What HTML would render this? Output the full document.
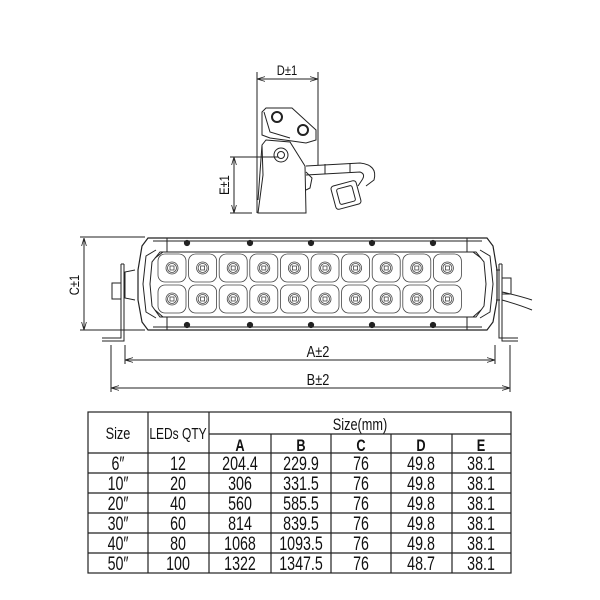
<!DOCTYPE html>
<html><head><style>
body{margin:0;background:#fff;}
svg{display:block;}
text{font-family:"Liberation Sans",sans-serif;fill:#111;}
.t{font-family:"Liberation Sans","Noto Sans CJK SC",sans-serif;text-anchor:middle;}
</style></head><body>
<svg width="600" height="600" viewBox="0 0 600 600" xmlns="http://www.w3.org/2000/svg">
<defs>
<marker id="ar" viewBox="0 0 10 10" refX="10" refY="5" markerWidth="8" markerHeight="8" orient="auto-start-reverse"><path d="M0,2 L10,5 L0,8" fill="none" stroke="#222" stroke-width="1"/></marker>
</defs>
<g fill="none" stroke="#222" stroke-width="1">
<line x1="257" y1="79" x2="318" y2="79" marker-start="url(#ar)" marker-end="url(#ar)"/>
<line x1="257" y1="72" x2="257" y2="213"/>
<line x1="318" y1="72" x2="318" y2="165"/>
<line x1="234" y1="157" x2="234" y2="213" marker-start="url(#ar)" marker-end="url(#ar)"/>
<line x1="230" y1="157" x2="278" y2="157"/>
<line x1="230" y1="213" x2="252" y2="213"/>
<path d="M262,112 L266,108 L292,108 L316,130 L316,140 L306,143 L292,141 L270,138 L262,135 Z"/>
<path d="M264,112 L270,132 L290,138"/>
<circle cx="277" cy="117" r="5" stroke-width="2"/>
<circle cx="303" cy="130" r="5" stroke-width="2"/>
<path d="M266,140 L290,142 L305,166 L306,213 L258,213 L263,175 L262,145 Z"/>
<path d="M262,145 L258,200"/>
<circle cx="281" cy="155" r="7"/><circle cx="281" cy="155" r="3.5"/>
<path d="M306,166 L360,163 Q378,165 374,180 L366,186"/>
<path d="M306,175 L360,172 Q366,174 362,180 L358,186"/>
<line x1="325" y1="164" x2="325" y2="174"/><line x1="350" y1="163" x2="350" y2="172"/>
<path d="M306,172 L312,178 L310,188 L306,190"/>
<rect x="333" y="183" width="26" height="24" rx="3" transform="rotate(-15 346 195)"/>
<rect x="338" y="187" width="16" height="16" rx="2" transform="rotate(-15 346 195)"/>
<line x1="84" y1="238" x2="84" y2="330" marker-start="url(#ar)" marker-end="url(#ar)"/>
<line x1="80" y1="237" x2="145" y2="237"/>
<line x1="80" y1="330" x2="145" y2="330"/>
<line x1="125" y1="360" x2="495" y2="360" marker-start="url(#ar)" marker-end="url(#ar)"/>
<line x1="111" y1="388" x2="510" y2="388" marker-start="url(#ar)" marker-end="url(#ar)"/>
<line x1="125" y1="345" x2="125" y2="364"/>
<line x1="495" y1="345" x2="495" y2="364"/>
<line x1="111" y1="345" x2="111" y2="392"/>
<line x1="510" y1="345" x2="510" y2="392"/>
<path d="M121,264 L121,338 L102,338 M124,264 L124,341 L102,341 M121,264 L124,264"/>
<rect x="112" y="283" width="9" height="16"/>
<path d="M499,264 L499,338 L518,338 M502,264 L502,341 L518,341 M499,264 L502,264"/>
<rect x="502" y="278" width="9" height="16"/>
<path d="M502,292 Q520,296 532,300 M502,300 Q520,305 532,310"/>
<path d="M148,238 L487,238 L493,246 L497,270 L497,300 L493,322 L487,330 L148,330 L142,322 L138,300 L138,270 L142,246 Z" stroke-width="1.2"/>
<path d="M135,270 L125,272 L125,298 L135,300"/>
<path d="M500,270 L496,270 M496,300 L500,300"/>
<path d="M153,241 L482,241 M153,327 L482,327"/>
<line x1="167" y1="238" x2="167" y2="252"/><line x1="467" y1="238" x2="467" y2="252"/>
<line x1="167" y1="317" x2="167" y2="330"/><line x1="467" y1="317" x2="467" y2="330"/>
<path d="M160,252 L476,252 L484,262 L486,284 L484,306 L476,317 L160,317 L152,306 L150,284 L152,262 Z"/>
<path d="M156,250 L146,256 L143,284 L146,312 L156,318"/>
<path d="M480,250 L490,256 L493,284 L490,312 L480,318"/>
<path d="M155,258 L163,252 M155,310 L163,317 M481,258 L473,252 M481,310 L473,317"/>
</g>
<g fill="#222" stroke="#222">
<circle cx="187" cy="243" r="2.6"/><circle cx="250" cy="243" r="2.6"/><circle cx="311" cy="243" r="2.6"/><circle cx="372" cy="243" r="2.6"/><circle cx="433" cy="243" r="2.6"/>
<circle cx="187" cy="325" r="2.6"/><circle cx="250" cy="325" r="2.6"/><circle cx="311" cy="325" r="2.6"/><circle cx="372" cy="325" r="2.6"/><circle cx="433" cy="325" r="2.6"/>
</g>
<g fill="none" stroke="#444" stroke-width="0.8" id="leds"></g>
<text transform="translate(287,75) scale(0.8,1)" class="t" style="font-size:14px">D±1</text>
<text transform="translate(229,185) rotate(-90) scale(0.8,1)" class="t" style="font-size:14px">E±1</text>
<text transform="translate(79,285) rotate(-90) scale(0.8,1)" class="t" style="font-size:14px">C±1</text>
<text transform="translate(318,357) scale(0.8,1)" class="t" style="font-size:16px">A±2</text>
<text transform="translate(318,385) scale(0.8,1)" class="t" style="font-size:16px">B±2</text>
<g stroke="#222" stroke-width="1.2" fill="none">
<rect x="88" y="412" width="423" height="161"/>
<line x1="148" y1="412" x2="148" y2="573"/>
<line x1="209" y1="412" x2="209" y2="573"/>
<line x1="271" y1="434" x2="271" y2="573"/>
<line x1="331" y1="434" x2="331" y2="573"/>
<line x1="391" y1="434" x2="391" y2="573"/>
<line x1="452" y1="434" x2="452" y2="573"/>
<line x1="209" y1="434" x2="511" y2="434"/>
<line x1="88" y1="453" x2="511" y2="453"/>
<line x1="88" y1="473" x2="511" y2="473"/>
<line x1="88" y1="493" x2="511" y2="493"/>
<line x1="88" y1="513" x2="511" y2="513"/>
<line x1="88" y1="533" x2="511" y2="533"/>
<line x1="88" y1="553" x2="511" y2="553"/>
</g>
<g id="rows"></g>
<script>
var ns="http://www.w3.org/2000/svg";
var g=document.getElementById('leds');
for(var i=0;i<10;i++){for(var r=0;r<2;r++){
var cx=172+i*30.6, cy=r?299:268;
var rc=document.createElementNS(ns,'rect');
rc.setAttribute('x',cx-14);rc.setAttribute('y',cy-14);rc.setAttribute('width',28);rc.setAttribute('height',28);rc.setAttribute('rx',7);g.appendChild(rc);
[6,4.5].forEach(function(rr){var c=document.createElementNS(ns,'circle');c.setAttribute('cx',cx);c.setAttribute('cy',cy);c.setAttribute('r',rr);g.appendChild(c);});
var s=document.createElementNS(ns,'rect');s.setAttribute('x',cx-2);s.setAttribute('y',cy-2);s.setAttribute('width',4);s.setAttribute('height',4);g.appendChild(s);
}}
var rg=document.getElementById('rows');
function T(x,y,v,fs,w){var t=document.createElementNS(ns,'text');t.setAttribute('transform','translate('+x+','+y+') scale(0.75,1)');t.setAttribute('class','t');t.setAttribute('style','font-size:'+fs+'px'+(w?';font-weight:bold':''));t.textContent=v;rg.appendChild(t);}
T(118,439,"Size",17);T(178,439,"LEDs QTY",16);T(360,430,"Size(mm)",17);
["A","B","C","D","E"].forEach(function(v,k){T([240,301,361,421,481][k],451,v,17,true);});
var data=[["6″","12","204.4","229.9","76","49.8","38.1"],["10″","20","306","331.5","76","49.8","38.1"],["20″","40","560","585.5","76","49.8","38.1"],["30″","60","814","839.5","76","49.8","38.1"],["40″","80","1068","1093.5","76","49.8","38.1"],["50″","100","1322","1347.5","76","48.7","38.1"]];
var xs=[118,178,240,301,361,421,481];
data.forEach(function(row,j){row.forEach(function(v,k){T(xs[k],470+j*20,v,19);});});
</script>
</svg>
</body></html>
